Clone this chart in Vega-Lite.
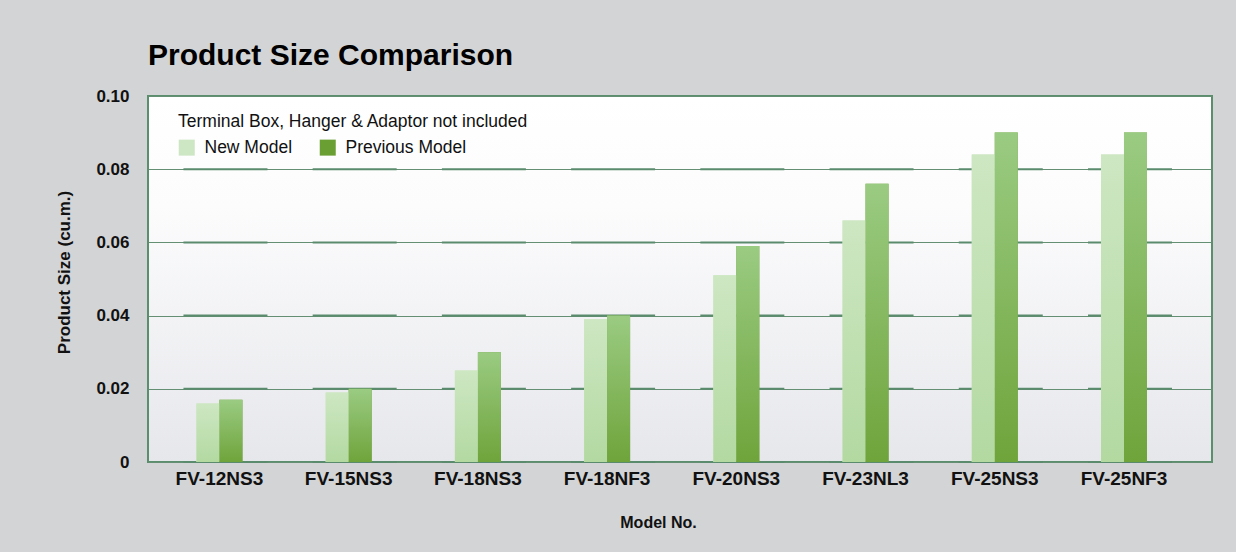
{
  "$schema": "https://vega.github.io/schema/vega-lite/v6.json",
  "width": 1064,
  "height": 366,
  "autosize": {"type": "none"},
  "padding": {"left": 148, "top": 96, "right": 24, "bottom": 90},
  "background": "#d3d4d6",
  "config": {
    "font": "Liberation Sans",
    "view": {
      "fill": {"gradient": "linear", "x1": 0, "y1": 0, "x2": 0, "y2": 1, "stops": [{"offset": 0, "color": "#ffffff"}, {"offset": 0.3, "color": "#fcfcfd"}, {"offset": 1, "color": "#e6e7eb"}]},
      "stroke": "#5b8e6d",
      "strokeWidth": 2
    }
  },
  "title": {
    "text": "Product Size Comparison",
    "anchor": "start",
    "frame": "group",
    "font": "Liberation Sans",
    "fontSize": 30,
    "fontWeight": "bold",
    "color": "#000000",
    "baseline": "alphabetic",
    "offset": 32,
    "dy": 40
  },
  "datasets": {
    "sizes": [
      {"model": "FV-12NS3", "series": "New Model", "size": 0.016},
      {"model": "FV-12NS3", "series": "Previous Model", "size": 0.017},
      {"model": "FV-15NS3", "series": "New Model", "size": 0.019},
      {"model": "FV-15NS3", "series": "Previous Model", "size": 0.020},
      {"model": "FV-18NS3", "series": "New Model", "size": 0.025},
      {"model": "FV-18NS3", "series": "Previous Model", "size": 0.030},
      {"model": "FV-18NF3", "series": "New Model", "size": 0.039},
      {"model": "FV-18NF3", "series": "Previous Model", "size": 0.040},
      {"model": "FV-20NS3", "series": "New Model", "size": 0.051},
      {"model": "FV-20NS3", "series": "Previous Model", "size": 0.059},
      {"model": "FV-23NL3", "series": "New Model", "size": 0.066},
      {"model": "FV-23NL3", "series": "Previous Model", "size": 0.076},
      {"model": "FV-25NS3", "series": "New Model", "size": 0.084},
      {"model": "FV-25NS3", "series": "Previous Model", "size": 0.090},
      {"model": "FV-25NF3", "series": "New Model", "size": 0.084},
      {"model": "FV-25NF3", "series": "Previous Model", "size": 0.090}
    ],
    "floor": [
      {"model": "FV-12NS3", "levels": [0, 0.02, 0.04, 0.06, 0.08]},
      {"model": "FV-15NS3", "levels": [0, 0.02, 0.04, 0.06, 0.08]},
      {"model": "FV-18NS3", "levels": [0, 0.02, 0.04, 0.06, 0.08]},
      {"model": "FV-18NF3", "levels": [0, 0.02, 0.04, 0.06, 0.08]},
      {"model": "FV-20NS3", "levels": [0, 0.02, 0.04, 0.06, 0.08]},
      {"model": "FV-23NL3", "levels": [0, 0.02, 0.04, 0.06, 0.08]},
      {"model": "FV-25NS3", "levels": [0, 0.02, 0.04, 0.06, 0.08]},
      {"model": "FV-25NF3", "levels": [0, 0.02, 0.04, 0.06, 0.08]}
    ]
  },
  "encoding": {
    "x": {
      "field": "model",
      "type": "nominal",
      "sort": null,
      "scale": {
        "domain": ["FV-12NS3", "FV-15NS3", "FV-18NS3", "FV-18NF3", "FV-20NS3", "FV-23NL3", "FV-25NS3", "FV-25NF3"],
        "paddingInner": 0.644,
        "paddingOuter": 0.439,
        "align": 0.427
      },
      "axis": {
        "title": "Model No.",
        "titleX": 510,
        "titleY": 65,
        "titleBaseline": "alphabetic",
        "titleAlign": "center",
        "titleFontSize": 16,
        "titleFontWeight": "bold",
        "titleColor": "#111111",
        "labelFontSize": 19,
        "labelFontWeight": "bold",
        "labelColor": "#111111",
        "labelPadding": 7,
        "labelAngle": 0,
        "labelAlign": "center",
        "labelBaseline": "top",
        "ticks": false,
        "domain": false,
        "grid": false
      }
    }
  },
  "layer": [
    {
      "data": {"name": "floor"},
      "transform": [{"flatten": ["levels"], "as": ["level"]}],
      "mark": {"type": "tick", "orient": "horizontal", "size": 84, "thickness": 2, "color": "#5a8b6c", "opacity": 1, "xOffset": 6},
      "encoding": {
        "y": {
          "field": "level",
          "type": "quantitative",
          "scale": {"domain": [0, 0.1], "nice": false},
          "axis": {
            "values": [0, 0.02, 0.04, 0.06, 0.08, 0.1],
            "labelExpr": "datum.value == 0 ? '0' : format(datum.value, '.2f')",
            "grid": true,
            "gridColor": "#658f72",
            "gridWidth": 1,
            "domain": false,
            "ticks": false,
            "labelPadding": 19,
            "labelFontSize": 17,
            "labelFontWeight": "bold",
            "labelColor": "#111111",
            "title": "Product Size (cu.m.)",
            "titleX": -84,
            "titleY": 176,
            "titleAngle": -90,
            "titleAlign": "center",
            "titleBaseline": "middle",
            "titleFontSize": 17,
            "titleFontWeight": "bold",
            "titleColor": "#111111"
          }
        }
      }
    },
    {
      "data": {"name": "sizes"},
      "mark": {"type": "bar"},
      "encoding": {
        "xOffset": {
          "field": "series",
          "type": "nominal",
          "sort": ["New Model", "Previous Model"],
          "scale": {"paddingInner": 0, "paddingOuter": 0}
        },
        "y": {"field": "size", "type": "quantitative"},
        "color": {
          "field": "series",
          "type": "nominal",
          "sort": ["New Model", "Previous Model"],
          "scale": {"domain": ["New Model", "Previous Model"], "range": ["#cde6c3", "#6a9f34"]},
          "legend": {
            "orient": "none",
            "legendX": 30,
            "legendY": 17,
            "direction": "horizontal",
            "title": "Terminal Box, Hanger & Adaptor not included",
            "titleFontSize": 17.5,
            "titleFontWeight": "normal",
            "titleColor": "#111111",
            "titlePadding": 8,
            "titleLimit": 700,
            "labelFontSize": 17.5,
            "labelColor": "#111111",
            "labelOffset": 9,
            "labelLimit": 300,
            "symbolType": "square",
            "symbolSize": 256,
            "symbolStrokeWidth": 0,
            "symbolOpacity": 1,
            "columnPadding": 26
          }
        }
      }
    },
    {
      "data": {"name": "sizes"},
      "transform": [{"filter": "datum.series === 'New Model'"}],
      "mark": {
        "type": "bar",
        "fill": {"gradient": "linear", "x1": 0, "y1": 0, "x2": 0, "y2": 1, "stops": [{"offset": 0, "color": "#cde7c2"}, {"offset": 1, "color": "#b3d9a1"}]}
      },
      "encoding": {
        "xOffset": {"field": "series", "type": "nominal", "sort": ["New Model", "Previous Model"], "scale": {"domain": ["New Model", "Previous Model"]}},
        "y": {"field": "size", "type": "quantitative"}
      }
    },
    {
      "data": {"name": "sizes"},
      "transform": [{"filter": "datum.series === 'Previous Model'"}],
      "mark": {
        "type": "bar",
        "fill": {"gradient": "linear", "x1": 0, "y1": 0, "x2": 0, "y2": 1, "stops": [{"offset": 0, "color": "#9acb82"}, {"offset": 1, "color": "#6fa43b"}]}
      },
      "encoding": {
        "xOffset": {"field": "series", "type": "nominal", "sort": ["New Model", "Previous Model"], "scale": {"domain": ["New Model", "Previous Model"]}},
        "y": {"field": "size", "type": "quantitative"}
      }
    }
  ]
}
